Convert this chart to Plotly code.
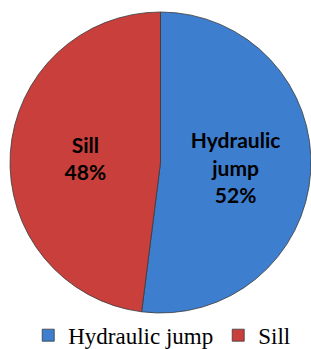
import plotly.graph_objects as go

labels = ["Hydraulic jump", "Sill"]
values = [52, 48]
slice_text = ["Hydraulic<br>jump", "Sill"]
colors = ["#3d7ecf", "#c93f3c"]

W, H = 311, 349
cx, cy, r = 160.5, 162.5, 150.5

fig = go.Figure(go.Pie(
    labels=labels,
    values=values,
    customdata=slice_text,
    texttemplate="%{customdata}<br>%{percent:.0%}",
    textposition="inside",
    insidetextorientation="horizontal",
    sort=False,
    direction="clockwise",
    rotation=0,
    marker=dict(colors=colors, line=dict(color="#3a3a3a", width=0.8)),
    textfont=dict(family="Lato", size=21, color="black", weight="bold"),
    domain=dict(x=[(cx - r) / W, min(1, (cx + r) / W)], y=[(H - cy - r) / H, (H - cy + r) / H]),
    hoverinfo="label+percent",
))

fig.update_layout(
    width=W, height=H,
    margin=dict(l=0, r=0, t=0, b=0, autoexpand=False),
    paper_bgcolor="white",
    showlegend=True,
    legend=dict(
        orientation="h", x=0.52, xanchor="center",
        yref="container", y=0.101, yanchor="top",
        font=dict(family="Liberation Serif", size=23, color="black"),
        itemwidth=30, traceorder="normal",
    ),
    uniformtext=dict(minsize=10),
)

fig.write_html("out.html", config={"displayModeBar": False},
               post_script="document.body.style.margin='0';")
